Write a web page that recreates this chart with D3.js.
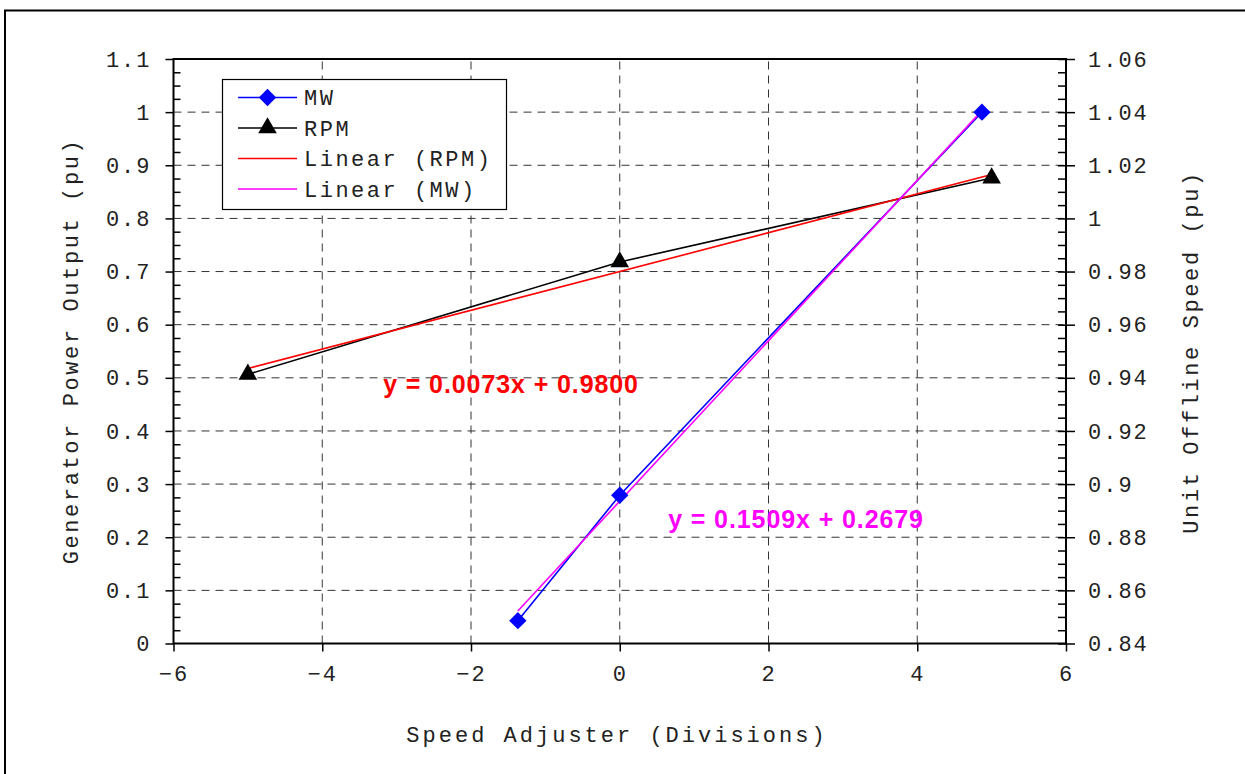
<!DOCTYPE html>
<html>
<head>
<meta charset="utf-8">
<script src="https://cdn.jsdelivr.net/npm/d3@7"></script>
<style>
  body { margin: 0; background: #fff; }
  svg { display: block; }
  .mono { font-family: "Courier New", "Liberation Mono", monospace; }
</style>
</head>
<body>
<svg width="1245" height="774"></svg>
<script>
// speed adjuster position (divisions) vs generator output and offline speed
var mwX = [-1.37, 0, 4.87];
var mwY = [0.043, 0.279, 1.0];
var rpmX = [-5, 0, 5];
var rpmY = [0.9413, 0.9836, 1.0152];
// trendline coefficients [slope, intercept]
var mwFit = [0.1509, 0.2679];
var rpmFit = [0.0073, 0.9800];
var xTicks = [-6, -4, -2, 0, 2, 4, 6];
var yLeftTicks = [0, 0.1, 0.2, 0.3, 0.4, 0.5, 0.6, 0.7, 0.8, 0.9, 1, 1.1];
var yRightTicks = [0.84, 0.86, 0.88, 0.9, 0.92, 0.94, 0.96, 0.98, 1, 1.02, 1.04, 1.06];
var legendNames = ["MW", "RPM", "Linear (RPM)", "Linear (MW)"];

var svg = d3.select("svg");
var pLeft = 173.5, pRight = 1066, pTop = 59, pBottom = 643.5;

var x = d3.scaleLinear().domain([-6, 6]).range([pLeft, pRight]);
var yL = d3.scaleLinear().domain([0, 1.1]).range([pBottom, pTop]);
var yR = d3.scaleLinear().domain([0.84, 1.06]).range([pBottom, pTop]);

// outer frame (only top + left visible in the picture)
svg.append("path").attr("d", "M5,774 V10.5 H1245")
    .attr("fill", "none").attr("stroke", "#000").attr("stroke-width", 2);

// grid
var grid = svg.append("g").attr("stroke", "#333").attr("stroke-width", 1)
    .attr("stroke-dasharray", "8,6");
grid.selectAll(".gx").data(xTicks.slice(1, -1)).enter().append("line")
    .attr("x1", function(d) { return x(d); }).attr("x2", function(d) { return x(d); })
    .attr("y1", pBottom).attr("y2", pTop);
grid.selectAll(".gy").data(yLeftTicks.slice(1, -1)).enter().append("line")
    .attr("y1", function(d) { return yL(d); }).attr("y2", function(d) { return yL(d); })
    .attr("x1", pLeft).attr("x2", pRight);

// minor tick values (4 per major)
function minors(ticks) {
    var out = [];
    for (var i = 0; i < ticks.length - 1; i++) {
        var step = (ticks[i + 1] - ticks[i]) / 4;
        for (var k = 1; k < 4; k++) out.push(ticks[i] + step * k);
    }
    return out;
}

function styleAxis(g) {
    g.select(".domain").remove();
    g.selectAll("line").attr("stroke", "#000").attr("stroke-width", 1.5);
    g.selectAll("text").attr("class", "mono").attr("font-size", 22)
        .attr("letter-spacing", 2).attr("fill", "#222");
}

// left axis
svg.append("g").attr("transform", "translate(" + pLeft + ",0)")
    .call(d3.axisLeft(yL).tickValues(yLeftTicks).tickSize(8).tickPadding(14)
        .tickFormat(function(d) { return d3.format("~g")(d); }))
    .call(styleAxis);
svg.append("g").attr("transform", "translate(" + pLeft + ",0)")
    .call(d3.axisLeft(yL).tickValues(minors(yLeftTicks)).tickSize(-7).tickFormat(""))
    .call(styleAxis);

// right axis
svg.append("g").attr("transform", "translate(" + pRight + ",0)")
    .call(d3.axisRight(yR).tickValues(yRightTicks).tickSize(9).tickPadding(13)
        .tickFormat(function(d) { return d3.format("~g")(d); }))
    .call(styleAxis)
    .selectAll(".tick line").attr("x1", -8);
svg.append("g").attr("transform", "translate(" + pRight + ",0)")
    .call(d3.axisRight(yR).tickValues(minors(yRightTicks)).tickSize(-8).tickFormat(""))
    .call(styleAxis);

// bottom axis
svg.append("g").attr("transform", "translate(0," + pBottom + ")")
    .call(d3.axisBottom(x).tickValues(xTicks).tickSize(8).tickPadding(14))
    .call(styleAxis);

// plot frame
svg.append("rect").attr("x", pLeft).attr("y", pTop)
    .attr("width", pRight - pLeft).attr("height", pBottom - pTop)
    .attr("fill", "none").attr("stroke", "#000").attr("stroke-width", 2);

// series lines
var lineL = d3.line().x(function(d) { return x(d[0]); }).y(function(d) { return yL(d[1]); });
var lineR = d3.line().x(function(d) { return x(d[0]); }).y(function(d) { return yR(d[1]); });

var rpmPts = d3.zip(rpmX, rpmY);
var mwPts = d3.zip(mwX, mwY);
var rpmTrend = d3.extent(rpmX).map(function(v) { return [v, rpmFit[0] * v + rpmFit[1]]; });
var mwTrend = d3.extent(mwX).map(function(v) { return [v, mwFit[0] * v + mwFit[1]]; });

svg.append("path").attr("d", lineR(rpmPts)).attr("fill", "none")
    .attr("stroke", "#000").attr("stroke-width", 1.6);
svg.append("path").attr("d", lineR(rpmTrend)).attr("fill", "none")
    .attr("stroke", "#ff0000").attr("stroke-width", 1.6);
svg.append("path").attr("d", lineL(mwPts)).attr("fill", "none")
    .attr("stroke", "#0000ff").attr("stroke-width", 1.6);
svg.append("path").attr("d", lineL(mwTrend)).attr("fill", "none")
    .attr("stroke", "#ff00ff").attr("stroke-width", 1.6);

var diamond = d3.symbol().type(d3.symbolSquare).size(150);
var triangle = d3.symbol().type(d3.symbolTriangle).size(150);

svg.selectAll(".mw").data(mwPts).enter().append("path")
    .attr("d", diamond)
    .attr("transform", function(d) { return "translate(" + x(d[0]) + "," + yL(d[1]) + ") rotate(45)"; })
    .attr("fill", "#0000ff");
svg.selectAll(".rpm").data(rpmPts).enter().append("path")
    .attr("d", triangle)
    .attr("transform", function(d) { return "translate(" + x(d[0]) + "," + yR(d[1]) + ")"; })
    .attr("fill", "#000");

// equations
svg.append("text").attr("x", 511).attr("y", 393).attr("text-anchor", "middle")
    .attr("font-family", "Liberation Sans, Arial, sans-serif").attr("font-weight", "bold")
    .attr("font-size", 25).attr("letter-spacing", 0.9).attr("fill", "#ff0000")
    .text("y = " + rpmFit[0].toFixed(4) + "x + " + rpmFit[1].toFixed(4));
svg.append("text").attr("x", 796).attr("y", 528).attr("text-anchor", "middle")
    .attr("font-family", "Liberation Sans, Arial, sans-serif").attr("font-weight", "bold")
    .attr("font-size", 25).attr("letter-spacing", 0.9).attr("fill", "#ff00ff")
    .text("y = " + mwFit[0].toFixed(4) + "x + " + mwFit[1].toFixed(4));

// legend
var lg = svg.append("g");
lg.append("rect").attr("x", 222.5).attr("y", 79.5).attr("width", 284).attr("height", 130)
    .attr("fill", "#fff").attr("stroke", "#000").attr("stroke-width", 1.2);
var legColors = ["#0000ff", "#000", "#ff0000", "#ff00ff"];
var rowY = [97.5, 128, 158.5, 189];
legendNames.forEach(function(name, i) {
    lg.append("line").attr("x1", 238).attr("x2", 297).attr("y1", rowY[i]).attr("y2", rowY[i])
        .attr("stroke", legColors[i]).attr("stroke-width", 1.6);
    if (i === 0) lg.append("path").attr("d", diamond)
        .attr("transform", "translate(267.5," + rowY[i] + ") rotate(45)").attr("fill", "#0000ff");
    if (i === 1) lg.append("path").attr("d", triangle)
        .attr("transform", "translate(267.5," + rowY[i] + ")").attr("fill", "#000");
    lg.append("text").attr("class", "mono").attr("x", 304).attr("y", rowY[i])
        .attr("dy", "0.35em").attr("font-size", 22).attr("letter-spacing", 2.5)
        .attr("fill", "#222").text(name);
});

// axis titles
svg.append("text").attr("class", "mono").attr("x", 617).attr("y", 742)
    .attr("text-anchor", "middle").attr("font-size", 22).attr("letter-spacing", 3)
    .attr("fill", "#222").text("Speed Adjuster (Divisions)");
svg.append("text").attr("class", "mono")
    .attr("transform", "translate(78,351) rotate(-90)")
    .attr("text-anchor", "middle").attr("font-size", 22).attr("letter-spacing", 2.6)
    .attr("fill", "#222").text("Generator Power Output (pu)");
svg.append("text").attr("class", "mono")
    .attr("transform", "translate(1198,352) rotate(-90)")
    .attr("text-anchor", "middle").attr("font-size", 22).attr("letter-spacing", 2.6)
    .attr("fill", "#222").text("Unit Offline Speed (pu)");
</script>
</body>
</html>
